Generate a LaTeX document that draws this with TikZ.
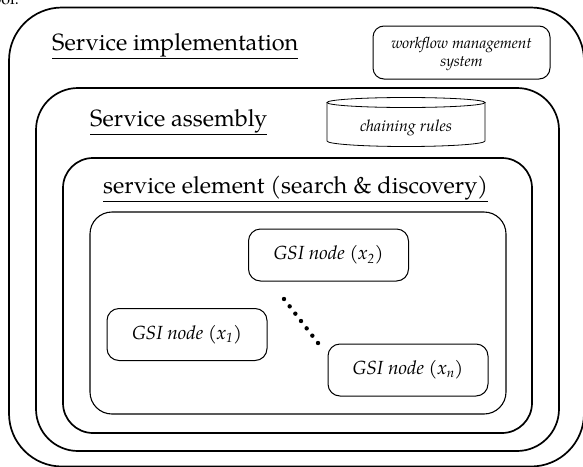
\documentclass[tikz,border=0pt]{standalone}
\usepackage{fontspec}
\setmainfont{TeX Gyre Pagella}
\usetikzlibrary{calc}
\begin{document}
\begin{tikzpicture}[x=1pt,y=-1pt,
  frame/.style={draw, line width=1.7pt, rounded corners=#1},
  innerframe/.style={draw, line width=1.1pt, rounded corners=#1},
  heading/.style={anchor=west, inner sep=0pt, font=\fontsize{23.5}{26}\selectfont},
  gsibox/.style={draw, line width=1pt, rounded corners=12pt, minimum width=160pt,
    minimum height=52pt, font=\itshape\fontsize{19}{22}\selectfont},
  smallbox/.style={draw, line width=1pt, rounded corners=11pt, align=center,
    font=\itshape\fontsize{15.5}{18}\selectfont},
  dotmark/.style={fill=black}]
\useasboundingbox (0,0) rectangle (583,466);

% fragment of the surrounding text, cut by the page edge
\node[anchor=base east, inner sep=0pt, font=\fontsize{16}{18}\selectfont] (frag) at (19,4) {tool.};

% nested layers
\draw[frame=53pt] (9,7.5) rectangle (584,466.5);
\draw[frame=42pt] (36,88) rectangle (559,451);
\draw[frame=30pt] (63,158) rectangle (532,433);
\draw[innerframe=22pt] (90,212) rectangle (506,414);

% layer headings
\node[heading] (impl) at (52,46) {\underline{Service implementation}};
\node[heading] (asm) at (90,122) {\underline{Service assembly}};
\node[heading] (elem) at (103,189) {\underline{service element (search \& discovery)}};

% workflow management system
\node[draw, line width=1pt, rounded corners=11pt, minimum width=177pt, minimum height=53pt]
  (wfms) at (461.5,52.5) {};
\node[smallbox, draw=none, rounded corners=0pt] (wfmstext) at (461.5,54)
  {workflow management\\system};

% chaining rules store (cylinder)
\draw[line width=0.8pt] (327,102.5) -- (327,141) arc[start angle=180, end angle=0, x radius=79, y radius=5.5]
  -- (485,102.5);
\draw[line width=0.8pt] (406,102.5) ellipse[x radius=79, y radius=5];
\node[font=\itshape\fontsize{16}{18}\selectfont] (rules) at (406,128) {chaining rules};

% GSI nodes
\node[gsibox] (g2) at (328.5,255) {GSI node (x\textsubscript{2})};
\node[gsibox] (g1) at (187,334.5) {GSI node (x\textsubscript{1})};
\node[gsibox] (gn) at (408,370) {GSI node (x\textsubscript{n})};

% ellipsis between the nodes
\coordinate (dotA) at (284,299);
\coordinate (dotB) at (318,343);
\foreach \t in {0,1,...,6}{
  \fill[dotmark] ($(dotA)!\t/6!(dotB)$) circle (2.2pt);
}
\end{tikzpicture}
\end{document}
